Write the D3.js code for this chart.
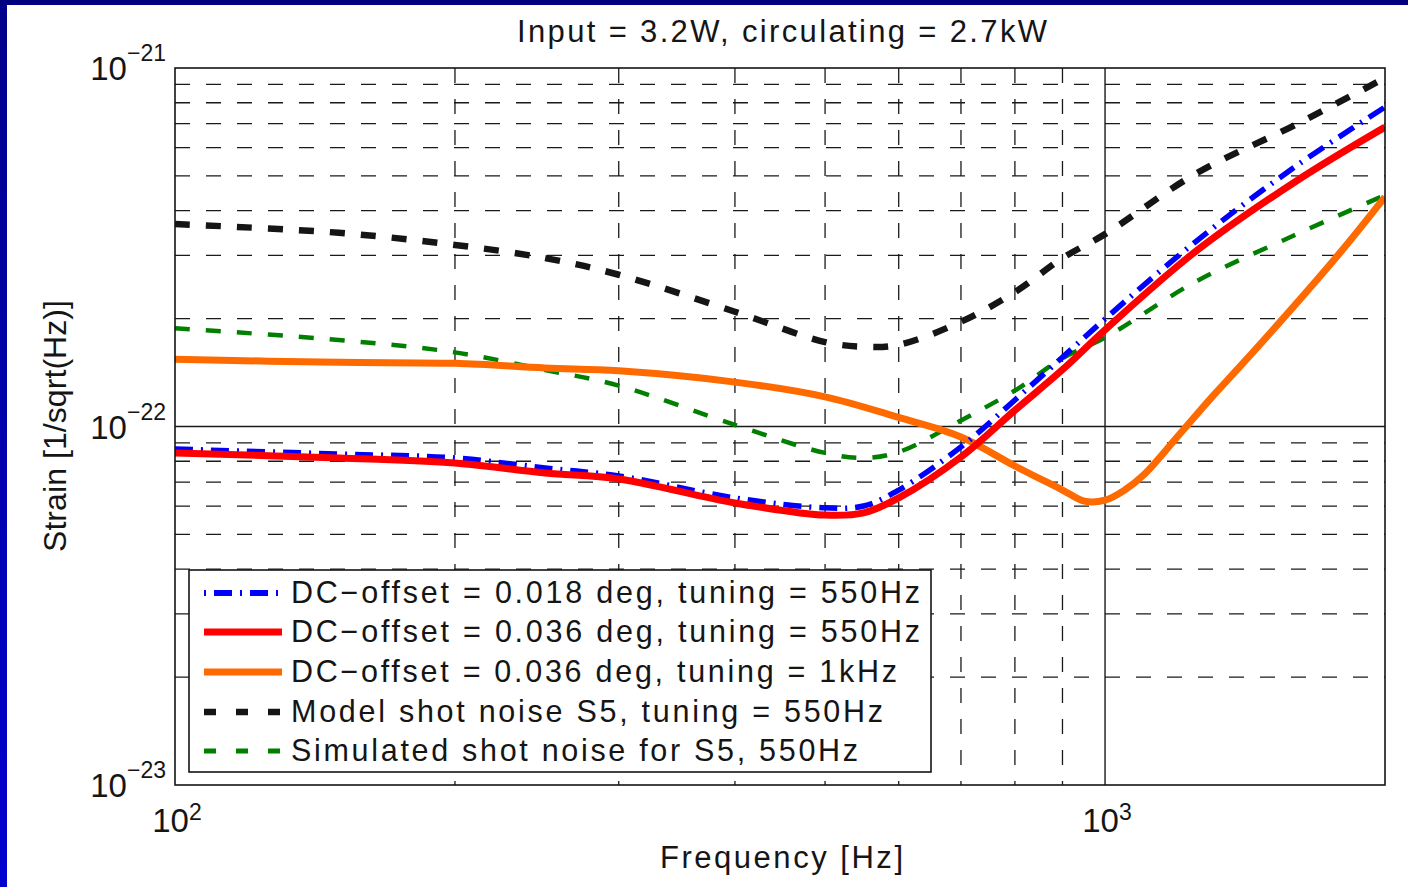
<!DOCTYPE html>
<html>
<head>
<meta charset="utf-8">
<script src="https://cdn.jsdelivr.net/npm/d3@7"></script>
<style>
  body { margin: 0; background: #fff; }
  svg { display: block; }
  text { font-family: "Liberation Sans", Arial, Helvetica, sans-serif; fill: #151515; }
</style>
</head>
<body>
<svg id="chart" width="1408" height="887"></svg>
<script>
// ---------------- data ----------------
const titleText = "Input = 3.2W, circulating = 2.7kW";
const xLabel = "Frequency [Hz]";
const yLabel = "Strain [1/sqrt(Hz)]";

const xDecades = [100, 1000];          // labelled x ticks (10^2, 10^3)
const yDecades = [1e-23, 1e-22, 1e-21]; // labelled y ticks

const freq = [100, 150, 200, 250, 300, 400, 500, 550, 600, 700, 800, 900, 1000, 1250, 1600, 2000];
const dc018_550 = [8.65e-23, 8.38e-23, 8.17e-23, 7.66e-23, 7.28e-23, 6.32e-23, 5.93e-23, 6.00e-23, 6.65e-23, 8.77e-23, 1.186e-22, 1.56e-22, 1.995e-22, 3.27e-22, 5.30e-22, 7.78e-22];
const dc036_550 = [8.44e-23, 8.17e-23, 7.91e-23, 7.42e-23, 7.14e-23, 6.12e-23, 5.66e-23, 5.74e-23, 6.32e-23, 8.22e-23, 1.11e-22, 1.44e-22, 1.86e-22, 3.07e-22, 4.81e-22, 6.84e-22];
const modelS5 = [3.67e-22, 3.47e-22, 3.21e-22, 2.95e-22, 2.65e-22, 2.09e-22, 1.72e-22, 1.67e-22, 1.69e-22, 1.96e-22, 2.37e-22, 2.95e-22, 3.44e-22, 5.06e-22, 6.93e-22, 9.38e-22];
const simS5 = [1.88e-22, 1.743e-22, 1.61e-22, 1.438e-22, 1.30e-22, 1.01e-22, 8.44e-23, 8.17e-23, 8.49e-23, 1.04e-22, 1.26e-22, 1.55e-22, 1.77e-22, 2.53e-22, 3.42e-22, 4.42e-22];

const freq1k = [100, 150, 200, 250, 300, 400, 500, 600, 700, 800, 900, 950, 1000, 1050, 1100, 1200, 1300, 1400, 1600, 1800, 2000];
const dc036_1k = [1.54e-22, 1.51e-22, 1.50e-22, 1.456e-22, 1.43e-22, 1.33e-22, 1.21e-22, 1.06e-22, 9.35e-23, 7.76e-23, 6.65e-23, 6.19e-23, 6.23e-23, 6.65e-23, 7.32e-23, 9.45e-23, 1.20e-22, 1.48e-22, 2.18e-22, 3.11e-22, 4.37e-22];

const seriesNames = [
  "DC\u2212offset = 0.018 deg, tuning = 550Hz",
  "DC\u2212offset = 0.036 deg, tuning = 550Hz",
  "DC\u2212offset = 0.036 deg, tuning = 1kHz",
  "Model shot noise S5, tuning = 550Hz",
  "Simulated shot noise for S5, 550Hz"
];

// ---------------- setup ----------------
const W = 1408, H = 887;
const plot = { left: 175, top: 68, right: 1385, bottom: 785 };
const svg = d3.select("#chart");

const defs = svg.append("defs");
const grad = defs.append("linearGradient").attr("id", "frameGrad")
  .attr("x1", 0).attr("y1", 0).attr("x2", 0).attr("y2", 1);
grad.append("stop").attr("offset", "0%").attr("stop-color", "#00008a");
grad.append("stop").attr("offset", "100%").attr("stop-color", "#0000d0");
defs.append("clipPath").attr("id", "plotClip").append("rect")
  .attr("x", plot.left).attr("y", plot.top)
  .attr("width", plot.right - plot.left).attr("height", plot.bottom - plot.top);

svg.append("rect").attr("width", W).attr("height", H).attr("fill", "#fff");
svg.append("rect").attr("x", 0).attr("y", 0).attr("width", 7).attr("height", H).attr("fill", "url(#frameGrad)");
svg.append("rect").attr("x", 0).attr("y", 0).attr("width", W).attr("height", 5).attr("fill", "#000080");

const x = d3.scaleLog().domain([100, 2000]).range([plot.left, plot.right]);
const y = d3.scaleLog().domain([1e-23, 1e-21]).range([plot.bottom, plot.top]);

const isDecade = v => Math.abs(Math.log10(v) - Math.round(Math.log10(v))) < 1e-6;

// ---------------- grid ----------------
const gridG = svg.append("g");
const xt = x.ticks().filter(v => v > 100 && v < 2000);
const yt = y.ticks().filter(v => v > 1e-23 * 1.0001 && v < 1e-21 * 0.9999);

xt.forEach(v => {
  gridG.append("line")
    .attr("x1", x(v)).attr("x2", x(v))
    .attr("y1", plot.top).attr("y2", plot.bottom)
    .attr("stroke", "#1a1a1a").attr("stroke-width", isDecade(v) ? 1.4 : 1.3)
    .attr("stroke-dasharray", isDecade(v) ? null : "15,16");
});
yt.forEach(v => {
  gridG.append("line")
    .attr("x1", plot.left).attr("x2", plot.right)
    .attr("y1", y(v)).attr("y2", y(v))
    .attr("stroke", "#1a1a1a").attr("stroke-width", isDecade(v) ? 1.4 : 1.3)
    .attr("stroke-dasharray", isDecade(v) ? null : "15,16");
});

// ---------------- curves ----------------
const line = d3.line()
  .x(d => x(d[0])).y(d => y(d[1]))
  .curve(d3.curveCatmullRom.alpha(0.5));

const curveDefs = [
  { f: freq,   v: simS5,     color: "#007f00", width: 4.5, dash: "15,16" },
  { f: freq,   v: modelS5,   color: "#151515", width: 6.5, dash: "15,16" },
  { f: freq1k, v: dc036_1k,  color: "#ff6a00", width: 7,   dash: null },
  { f: freq,   v: dc018_550, color: "#0000ff", width: 5.5, dash: "18,8,2,8" },
  { f: freq,   v: dc036_550, color: "#ff0000", width: 7,   dash: null }
];
const curveG = svg.append("g").attr("clip-path", "url(#plotClip)");
curveDefs.forEach(c => {
  curveG.append("path")
    .datum(c.f.map((f, i) => [f, c.v[i]]))
    .attr("d", line)
    .attr("fill", "none")
    .attr("stroke", c.color)
    .attr("stroke-width", c.width)
    .attr("stroke-dasharray", c.dash);
});
// axes box
svg.append("rect")
  .attr("x", plot.left).attr("y", plot.top)
  .attr("width", plot.right - plot.left).attr("height", plot.bottom - plot.top)
  .attr("fill", "none").attr("stroke", "#151515").attr("stroke-width", 1.6);

// ---------------- tick labels ----------------
xDecades.forEach(v => {
  const t = svg.append("text")
    .attr("x", x(v) + 2).attr("y", 832)
    .attr("text-anchor", "middle");
  t.append("tspan").attr("font-size", 33).text("10");
  t.append("tspan").attr("font-size", 23).attr("dy", -12).text(String(Math.round(Math.log10(v))));
});
yDecades.forEach(v => {
  const t = svg.append("text")
    .attr("x", 166).attr("y", y(v) + 12)
    .attr("text-anchor", "end");
  t.append("tspan").attr("font-size", 33).text("10");
  t.append("tspan").attr("font-size", 23).attr("dy", -19)
    .text("\u2212" + String(Math.abs(Math.round(Math.log10(v)))));
});

// ---------------- titles ----------------
svg.append("text")
  .attr("x", 517).attr("y", 42)
  .attr("font-size", 31)
  .attr("textLength", 530).attr("lengthAdjust", "spacing")
  .text(titleText);

svg.append("text")
  .attr("x", 660).attr("y", 868)
  .attr("font-size", 31)
  .attr("textLength", 243).attr("lengthAdjust", "spacing")
  .text(xLabel);

svg.append("text")
  .attr("transform", "translate(66," + 552 + ") rotate(-90)")
  .attr("font-size", 32)
  .attr("textLength", 252).attr("lengthAdjust", "spacing")
  .text(yLabel);

// ---------------- legend ----------------
const leg = svg.append("g");
leg.append("rect")
  .attr("x", 189).attr("y", 570).attr("width", 742).attr("height", 202)
  .attr("fill", "#fff").attr("stroke", "#151515").attr("stroke-width", 1.6);

const legendStyles = [
  { color: "#0000ff", width: 6,   dash: "2,8,18,8" },
  { color: "#ff0000", width: 7,   dash: null },
  { color: "#ff6a00", width: 7,   dash: null },
  { color: "#151515", width: 6.5, dash: "12,20" },
  { color: "#007f00", width: 5,   dash: "12,20" }
];
const rowY = [593, 632, 672, 712, 751];
const textLens = [629, 629, 606, 592, 567];
seriesNames.forEach((name, i) => {
  const s = legendStyles[i];
  leg.append("line")
    .attr("x1", 204).attr("x2", 282)
    .attr("y1", rowY[i]).attr("y2", rowY[i])
    .attr("stroke", s.color).attr("stroke-width", s.width)
    .attr("stroke-dasharray", s.dash);
  leg.append("text")
    .attr("x", 291).attr("y", rowY[i] + 10)
    .attr("font-size", 30.5)
    .attr("textLength", textLens[i]).attr("lengthAdjust", "spacing")
    .text(name);
});
</script>
</body>
</html>
